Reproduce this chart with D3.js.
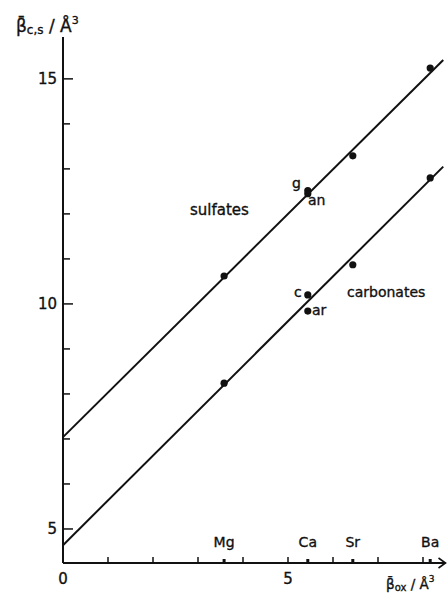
<!DOCTYPE html>
<html><head><meta charset="utf-8">
<script src="https://cdn.jsdelivr.net/npm/d3@7"></script>
<style>body{margin:0;background:#fff}svg text{font-family:"DejaVu Sans",sans-serif;fill:#111;stroke:#111;stroke-width:0.35}</style>
</head><body><svg id="c" width="447" height="593"></svg>
<script>
const elements = ["Mg","Ca","Sr","Ba"];
const betaOx = [3.58, 5.44, 6.44, 8.16];
const sulfates = [10.62, 12.52, 13.29, 15.24];
const sulfatesCa2 = 12.45;      // anhydrite (an); 12.52 gypsum (g)
const carbonates = [8.24, 9.84, 10.87, 12.8]; // Ca = aragonite (ar)
const carbonateCalcite = 10.2;  // calcite (c)
const lineX = [0, 8.45];
const sulfateLine = [7.04, 15.42];
const carbonateLine = [4.64, 13.05];
const yTicks = [5,6,7,8,9,10,11,12,13,14,15];
const yTickLabels = [5,10,15];
const xTicks = [1,2,3,4,5,6,7,8];
const xTickLabels = [0,5];

const svg = d3.select("#c");
const x = d3.scaleLinear().domain([0, 8.4]).range([63, 441]);
const y = d3.scaleLinear().domain([4.244, 15.93]).range([563, 37]);
const col = "#111";

svg.append("line").attr("x1", x(0)).attr("x2", x(8.5)).attr("y1", y(4.244)).attr("y2", y(4.244)).attr("stroke", col).attr("stroke-width", 2);
svg.append("line").attr("x1", x(0)).attr("x2", x(0)).attr("y1", y(4.244)).attr("y2", y(15.93)).attr("stroke", col).attr("stroke-width", 2);
svg.append("path").attr("d", `M${x(8.5)-7},${y(4.244)-5} L${x(8.5)},${y(4.244)} L${x(8.5)-7},${y(4.244)+5}`).attr("fill","none").attr("stroke",col).attr("stroke-width",1.6);

svg.selectAll(".yt").data(yTicks).enter().append("line")
  .attr("x1", x(0)).attr("x2", d => x(0) + (d % 5 === 0 ? 10 : 7))
  .attr("y1", d => y(d)).attr("y2", d => y(d)).attr("stroke", col).attr("stroke-width", 1.5);
svg.selectAll(".yl").data(yTickLabels).enter().append("text")
  .attr("x", x(0) - 6).attr("y", d => y(d) + 5.5).attr("text-anchor", "end").attr("font-size", 15)
  .attr("font-family", "DejaVu Sans Condensed, DejaVu Sans").text(d => d);

svg.selectAll(".xt").data(xTicks).enter().append("line")
  .attr("x1", d => x(d)).attr("x2", d => x(d)).attr("y1", y(4.244)).attr("y2", y(4.244) - 6)
  .attr("stroke", col).attr("stroke-width", 1.5);
svg.selectAll(".xe").data(betaOx).enter().append("line")
  .attr("x1", d => x(d)).attr("x2", d => x(d)).attr("y1", y(4.244)).attr("y2", y(4.244) - 4)
  .attr("stroke", col).attr("stroke-width", 3);
svg.selectAll(".xl").data(xTickLabels).enter().append("text")
  .attr("x", d => x(d)).attr("y", 584).attr("text-anchor", "middle").attr("font-size", 15)
  .attr("font-family", "DejaVu Sans Condensed, DejaVu Sans").text(d => d);
svg.selectAll(".el").data(elements).enter().append("text")
  .attr("x", (d, i) => x(betaOx[i])).attr("y", 547).attr("text-anchor", "middle").attr("font-size", 14).text(d => d);

[sulfateLine, carbonateLine].forEach(L => {
  svg.append("line").attr("x1", x(lineX[0])).attr("x2", x(lineX[1])).attr("y1", y(L[0])).attr("y2", y(L[1]))
    .attr("stroke", col).attr("stroke-width", 2);
});

const pts = betaOx.map((v, i) => [v, sulfates[i]])
  .concat(betaOx.map((v, i) => [v, carbonates[i]]))
  .concat([[betaOx[1], sulfatesCa2], [betaOx[1], carbonateCalcite]]);
svg.selectAll(".pt").data(pts).enter().append("circle")
  .attr("cx", d => x(d[0])).attr("cy", d => y(d[1])).attr("r", 3.6).attr("fill", col);

const t = (tx, ty, s, fs) => svg.append("text").attr("x", tx).attr("y", ty).attr("font-size", fs || 14).text(s);
t(190, 215, "sulfates", 15);
t(347, 297, "carbonates");
t(292, 188, "g");
t(308, 205, "an");
t(294, 297, "c");
t(312, 315, "ar");

const yt = svg.append("text").attr("x", 16).attr("y", 32).attr("font-size", 17);
yt.append("tspan").text("β\u0304");
yt.append("tspan").attr("font-size", 12).attr("dy", 2).text("c,s");
yt.append("tspan").attr("dy", -2).text(" / Å");
yt.append("tspan").attr("font-size", 11).attr("dy", -8).text("3");
const xt = svg.append("text").attr("x", 386).attr("y", 589).attr("font-size", 13.5);
xt.append("tspan").text("β\u0304");
xt.append("tspan").attr("font-size", 10).attr("dy", 2).text("ox");
xt.append("tspan").attr("dy", -2).text(" / Å");
xt.append("tspan").attr("font-size", 9).attr("dy", -7).text("3");
</script></body></html>
